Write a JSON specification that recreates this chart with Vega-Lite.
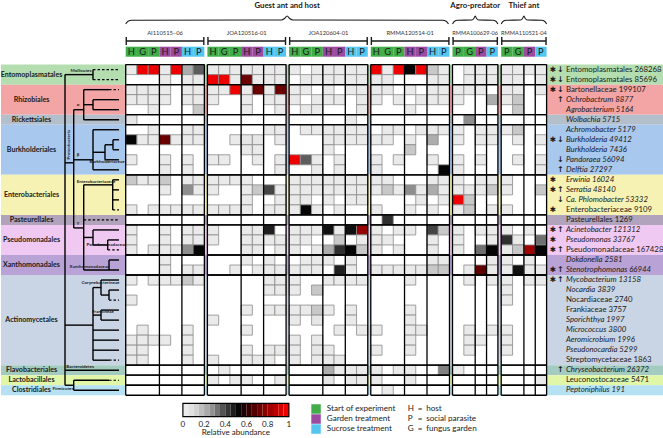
{
"$schema":"https://vega.github.io/schema/vega-lite/v6.json",
"background":"white",
"padding":0,
"spacing":2.7,
"bounds":"flush",
"config":{"view":{"stroke":null},"text":{"font":"Lato","fill":"#1a1a1a"}},
"resolve":{"scale":{"x":"independent","y":"independent","color":"independent","fill":"independent"}},
"datasets":{
"orders":[{"order":"Entomoplasmatales","top":0,"bottom":2,"mid":1},{"order":"Rhizobiales","top":2,"bottom":5,"mid":3.5},{"order":"Rickettsiales","top":5,"bottom":6,"mid":5.5},{"order":"Burkholderiales","top":6,"bottom":11,"mid":8.5},{"order":"Enterobacteriales","top":11,"bottom":15,"mid":13},{"order":"Pasteurellales","top":15,"bottom":16,"mid":15.5},{"order":"Pseudomonadales","top":16,"bottom":19,"mid":17.5},{"order":"Xanthomonadales","top":19,"bottom":21,"mid":20},{"order":"Actinomycetales","top":21,"bottom":30,"mid":25.5},{"order":"Flavobacteriales","top":30,"bottom":31,"mid":30.5},{"order":"Lactobacillales","top":31,"bottom":32,"mid":31.5},{"order":"Clostridiales","top":32,"bottom":33,"mid":32.5}],
"colonies":[{"g":1,"name":"AI110515–06"},{"g":2,"name":"JOA120516-01"},{"g":3,"name":"JOA120604-01"},{"g":4,"name":"RMMA120514-01"},{"g":5,"name":"RMMA100629-06"},{"g":6,"name":"RMMA110521-04"}],
"samples":[
{"g":1,"k":0,"letter":"H","treatment":"Start"},{"g":1,"k":1,"letter":"G","treatment":"Start"},{"g":1,"k":2,"letter":"P","treatment":"Start"},{"g":1,"k":3,"letter":"H","treatment":"Garden"},{"g":1,"k":4,"letter":"P","treatment":"Garden"},{"g":1,"k":5,"letter":"H","treatment":"Sucrose"},{"g":1,"k":6,"letter":"P","treatment":"Sucrose"},
{"g":2,"k":0,"letter":"H","treatment":"Start"},{"g":2,"k":1,"letter":"G","treatment":"Start"},{"g":2,"k":2,"letter":"P","treatment":"Start"},{"g":2,"k":3,"letter":"H","treatment":"Garden"},{"g":2,"k":4,"letter":"P","treatment":"Garden"},{"g":2,"k":5,"letter":"H","treatment":"Sucrose"},{"g":2,"k":6,"letter":"P","treatment":"Sucrose"},
{"g":3,"k":0,"letter":"H","treatment":"Start"},{"g":3,"k":1,"letter":"G","treatment":"Start"},{"g":3,"k":2,"letter":"P","treatment":"Start"},{"g":3,"k":3,"letter":"H","treatment":"Garden"},{"g":3,"k":4,"letter":"P","treatment":"Garden"},{"g":3,"k":5,"letter":"H","treatment":"Sucrose"},{"g":3,"k":6,"letter":"P","treatment":"Sucrose"},
{"g":4,"k":0,"letter":"H","treatment":"Start"},{"g":4,"k":1,"letter":"G","treatment":"Start"},{"g":4,"k":2,"letter":"P","treatment":"Start"},{"g":4,"k":3,"letter":"H","treatment":"Garden"},{"g":4,"k":4,"letter":"P","treatment":"Garden"},{"g":4,"k":5,"letter":"H","treatment":"Sucrose"},{"g":4,"k":6,"letter":"P","treatment":"Sucrose"},
{"g":5,"k":0,"letter":"P","treatment":"Start"},{"g":5,"k":1,"letter":"G","treatment":"Start"},{"g":5,"k":2,"letter":"P","treatment":"Garden"},{"g":5,"k":3,"letter":"P","treatment":"Sucrose"},
{"g":6,"k":0,"letter":"P","treatment":"Start"},{"g":6,"k":1,"letter":"G","treatment":"Start"},{"g":6,"k":2,"letter":"P","treatment":"Garden"},{"g":6,"k":3,"letter":"P","treatment":"Sucrose"}],
"vlines":[{"g":1,"at":0},{"g":1,"at":3},{"g":1,"at":5},{"g":1,"at":7},{"g":2,"at":0},{"g":2,"at":3},{"g":2,"at":5},{"g":2,"at":7},{"g":3,"at":0},{"g":3,"at":3},{"g":3,"at":5},{"g":3,"at":7},{"g":4,"at":0},{"g":4,"at":3},{"g":4,"at":5},{"g":4,"at":7},{"g":5,"at":0},{"g":5,"at":2},{"g":5,"at":3},{"g":5,"at":4},{"g":6,"at":0},{"g":6,"at":2},{"g":6,"at":3},{"g":6,"at":4}],
"taxa":[
{"row":0,"label":"Entomoplasmatales 268268","rank":"order","sig":true,"trend":"down"},
{"row":1,"label":"Entomoplasmatales 85696","rank":"order","sig":true,"trend":"down"},
{"row":2,"label":"Bartonellaceae 199107","rank":"family","sig":true,"trend":"down"},
{"row":3,"label":"Ochrobactrum 8877","rank":"genus","sig":false,"trend":"up"},
{"row":4,"label":"Agrobacterium 5164","rank":"genus","sig":false,"trend":"none"},
{"row":5,"label":"Wolbachia 5715","rank":"genus","sig":false,"trend":"none"},
{"row":6,"label":"Achromobacter 5179","rank":"genus","sig":false,"trend":"none"},
{"row":7,"label":"Burkholderia 49412","rank":"genus","sig":true,"trend":"down"},
{"row":8,"label":"Burkholderia 7436","rank":"genus","sig":false,"trend":"none"},
{"row":9,"label":"Pandoraea 56094","rank":"genus","sig":false,"trend":"down"},
{"row":10,"label":"Delftia 27297","rank":"genus","sig":false,"trend":"up"},
{"row":11,"label":"Erwinia 16024","rank":"genus","sig":true,"trend":"none"},
{"row":12,"label":"Serratia 48140","rank":"genus","sig":true,"trend":"up"},
{"row":13,"label":"Ca. Phlomobacter 53332","rank":"genus","sig":false,"trend":"down"},
{"row":14,"label":"Enterobacteriaceae 9109","rank":"family","sig":true,"trend":"none"},
{"row":15,"label":"Pasteurellales 1269","rank":"order","sig":false,"trend":"none"},
{"row":16,"label":"Acinetobacter 121312","rank":"genus","sig":true,"trend":"up"},
{"row":17,"label":"Pseudomonas 33767","rank":"genus","sig":true,"trend":"none"},
{"row":18,"label":"Pseudomonadaceae 167428","rank":"family","sig":true,"trend":"up"},
{"row":19,"label":"Dokdonella 2581","rank":"genus","sig":false,"trend":"none"},
{"row":20,"label":"Stenotrophomonas 66944","rank":"genus","sig":true,"trend":"up"},
{"row":21,"label":"Mycobacterium 13158","rank":"genus","sig":true,"trend":"up"},
{"row":22,"label":"Nocardia 3839","rank":"genus","sig":false,"trend":"none"},
{"row":23,"label":"Nocardiaceae 2740","rank":"family","sig":false,"trend":"none"},
{"row":24,"label":"Frankiaceae 3757","rank":"family","sig":false,"trend":"none"},
{"row":25,"label":"Sporichthya 1997","rank":"genus","sig":false,"trend":"none"},
{"row":26,"label":"Micrococcus 3800","rank":"genus","sig":false,"trend":"none"},
{"row":27,"label":"Aeromicrobium 1996","rank":"genus","sig":false,"trend":"none"},
{"row":28,"label":"Pseudonocardia 5299","rank":"genus","sig":false,"trend":"none"},
{"row":29,"label":"Streptomycetaceae 1863","rank":"family","sig":false,"trend":"none"},
{"row":30,"label":"Chryseobacterium 26372","rank":"genus","sig":false,"trend":"up"},
{"row":31,"label":"Leuconostocaceae 5471","rank":"family","sig":false,"trend":"none"},
{"row":32,"label":"Peptoniphilus 191","rank":"genus","sig":false,"trend":"none"}],
"tree":[
{"x1":64,"y1":1.0,"x2":64,"y2":32.0,"line":"solid"},
{"x1":64,"y1":1.0,"x2":92,"y2":1.0,"line":"solid"},
{"x1":92,"y1":0.5,"x2":92,"y2":1.5,"line":"solid"},
{"x1":92,"y1":0.5,"x2":118,"y2":0.5,"line":"dashed"},
{"x1":92,"y1":1.5,"x2":118,"y2":1.5,"line":"dashed"},
{"x1":64,"y1":9.8,"x2":72.7,"y2":9.8,"line":"solid"},
{"x1":72.7,"y1":4.5,"x2":72.7,"y2":16.3,"line":"solid"},
{"x1":72.7,"y1":4.5,"x2":82.7,"y2":4.5,"line":"solid"},
{"x1":82.7,"y1":2.5,"x2":82.7,"y2":5.5,"line":"solid"},
{"x1":82.7,"y1":2.5,"x2":108,"y2":2.5,"line":"solid"},
{"x1":108,"y1":2.5,"x2":118,"y2":2.5,"line":"dashed"},
{"x1":82.7,"y1":4.0,"x2":92,"y2":4.0,"line":"solid"},
{"x1":92,"y1":3.5,"x2":92,"y2":4.5,"line":"solid"},
{"x1":92,"y1":3.5,"x2":118,"y2":3.5,"line":"solid"},
{"x1":92,"y1":4.5,"x2":118,"y2":4.5,"line":"solid"},
{"x1":82.7,"y1":5.5,"x2":118,"y2":5.5,"line":"solid"},
{"x1":72.7,"y1":9.5,"x2":92,"y2":9.5,"line":"solid"},
{"x1":92,"y1":6.5,"x2":92,"y2":10.5,"line":"solid"},
{"x1":92,"y1":6.5,"x2":118,"y2":6.5,"line":"solid"},
{"x1":92,"y1":10.5,"x2":118,"y2":10.5,"line":"solid"},
{"x1":92,"y1":8.75,"x2":104,"y2":8.75,"line":"solid"},
{"x1":104,"y1":8.0,"x2":104,"y2":9.5,"line":"solid"},
{"x1":104,"y1":9.5,"x2":118,"y2":9.5,"line":"solid"},
{"x1":104,"y1":8.0,"x2":112,"y2":8.0,"line":"solid"},
{"x1":112,"y1":7.5,"x2":112,"y2":8.5,"line":"solid"},
{"x1":112,"y1":7.5,"x2":118,"y2":7.5,"line":"solid"},
{"x1":112,"y1":8.5,"x2":118,"y2":8.5,"line":"solid"},
{"x1":72.7,"y1":16.3,"x2":82.7,"y2":16.3,"line":"solid"},
{"x1":82.7,"y1":12.0,"x2":82.7,"y2":20.5,"line":"solid"},
{"x1":82.7,"y1":12.0,"x2":111.7,"y2":12.0,"line":"solid"},
{"x1":111.7,"y1":11.5,"x2":111.7,"y2":14.5,"line":"solid"},
{"x1":111.7,"y1":11.5,"x2":118,"y2":11.5,"line":"solid"},
{"x1":111.7,"y1":12.5,"x2":118,"y2":12.5,"line":"solid"},
{"x1":111.7,"y1":13.5,"x2":118,"y2":13.5,"line":"solid"},
{"x1":111.7,"y1":14.5,"x2":118,"y2":14.5,"line":"dashed"},
{"x1":82.7,"y1":15.5,"x2":118,"y2":15.5,"line":"dashed"},
{"x1":82.7,"y1":17.25,"x2":92,"y2":17.25,"line":"solid"},
{"x1":92,"y1":16.5,"x2":92,"y2":18.0,"line":"solid"},
{"x1":92,"y1":16.5,"x2":118,"y2":16.5,"line":"solid"},
{"x1":92,"y1":18.0,"x2":106.7,"y2":18.0,"line":"solid"},
{"x1":106.7,"y1":17.5,"x2":106.7,"y2":18.5,"line":"solid"},
{"x1":106.7,"y1":17.5,"x2":118,"y2":17.5,"line":"solid"},
{"x1":106.7,"y1":18.5,"x2":118,"y2":18.5,"line":"dashed"},
{"x1":82.7,"y1":20.5,"x2":118,"y2":20.5,"line":"solid"},
{"x1":108,"y1":19.5,"x2":108,"y2":20.5,"line":"solid"},
{"x1":108,"y1":19.5,"x2":118,"y2":19.5,"line":"solid"},
{"x1":64,"y1":26.0,"x2":92,"y2":26.0,"line":"solid"},
{"x1":92,"y1":22.25,"x2":92,"y2":29.5,"line":"solid"},
{"x1":92,"y1":22.25,"x2":100,"y2":22.25,"line":"solid"},
{"x1":100,"y1":21.5,"x2":100,"y2":23.0,"line":"solid"},
{"x1":100,"y1":21.5,"x2":118,"y2":21.5,"line":"solid"},
{"x1":100,"y1":23.0,"x2":108,"y2":23.0,"line":"solid"},
{"x1":108,"y1":22.5,"x2":108,"y2":23.5,"line":"solid"},
{"x1":108,"y1":22.5,"x2":118,"y2":22.5,"line":"solid"},
{"x1":108,"y1":23.5,"x2":118,"y2":23.5,"line":"dashed"},
{"x1":92,"y1":25.0,"x2":100,"y2":25.0,"line":"solid"},
{"x1":100,"y1":24.5,"x2":100,"y2":25.5,"line":"solid"},
{"x1":100,"y1":24.5,"x2":118,"y2":24.5,"line":"solid"},
{"x1":100,"y1":25.5,"x2":118,"y2":25.5,"line":"solid"},
{"x1":92,"y1":26.5,"x2":118,"y2":26.5,"line":"solid"},
{"x1":92,"y1":27.5,"x2":118,"y2":27.5,"line":"solid"},
{"x1":92,"y1":28.5,"x2":118,"y2":28.5,"line":"solid"},
{"x1":92,"y1":29.5,"x2":108,"y2":29.5,"line":"solid"},
{"x1":108,"y1":29.5,"x2":118,"y2":29.5,"line":"dashed"},
{"x1":64,"y1":30.5,"x2":118,"y2":30.5,"line":"solid"},
{"x1":64,"y1":32.0,"x2":72.7,"y2":32.0,"line":"solid"},
{"x1":72.7,"y1":31.5,"x2":72.7,"y2":32.5,"line":"solid"},
{"x1":72.7,"y1":31.5,"x2":108,"y2":31.5,"line":"solid"},
{"x1":108,"y1":31.5,"x2":118,"y2":31.5,"line":"dashed"},
{"x1":72.7,"y1":32.5,"x2":118,"y2":32.5,"line":"solid"}],
"treeLabels":[{"label":"Mollicutes","x":80,"y":0.62},{"label":"α","x":77,"y":4.05},{"label":"β","x":77,"y":9.05},{"label":"γ","x":77,"y":15.85},{"label":"Burkholderiaceae","x":106,"y":9.75},{"label":"Enterobacteriaceae","x":95,"y":11.72},{"label":"Pseudomonadaceae","x":105.5,"y":18.02},{"label":"Xanthomonadaceae","x":88.5,"y":20.18},{"label":"Corynebacterineae","x":99.5,"y":21.8},{"label":"Frankineae","x":102,"y":24.65},{"label":"Bacteroidetes","x":79,"y":30.15},{"label":"Firmicutes","x":62,"y":32.4}],
"braces":[
{"g":1,"i":0,"bx":0,"by":-4.052},{"g":1,"i":1,"bx":0.18,"by":-4.301},{"g":1,"i":2,"bx":0.53,"by":-4.421},{"g":1,"i":3,"bx":13.83,"by":-4.451},{"g":1,"i":4,"bx":14.13,"by":-4.601},{"g":1,"i":5,"bx":14.36,"by":-4.85},{"g":1,"i":6,"bx":14.59,"by":-4.601},{"g":1,"i":7,"bx":14.89,"by":-4.451},{"g":1,"i":8,"bx":28.19,"by":-4.421},{"g":1,"i":9,"bx":28.54,"by":-4.301},{"g":1,"i":10,"bx":28.72,"by":-4.052},
{"g":5,"i":0,"bx":0,"by":-4.052},{"g":5,"i":1,"bx":0.15,"by":-4.301},{"g":5,"i":2,"bx":0.45,"by":-4.421},{"g":5,"i":3,"bx":1.7,"by":-4.451},{"g":5,"i":4,"bx":1.88,"by":-4.601},{"g":5,"i":5,"bx":2,"by":-4.85},{"g":5,"i":6,"bx":2.12,"by":-4.601},{"g":5,"i":7,"bx":2.3,"by":-4.451},{"g":5,"i":8,"bx":3.55,"by":-4.421},{"g":5,"i":9,"bx":3.85,"by":-4.301},{"g":5,"i":10,"bx":4,"by":-4.052},
{"g":6,"i":0,"bx":0,"by":-4.052},{"g":6,"i":1,"bx":0.15,"by":-4.301},{"g":6,"i":2,"bx":0.45,"by":-4.421},{"g":6,"i":3,"bx":1.7,"by":-4.451},{"g":6,"i":4,"bx":1.88,"by":-4.601},{"g":6,"i":5,"bx":2,"by":-4.85},{"g":6,"i":6,"bx":2.12,"by":-4.601},{"g":6,"i":7,"bx":2.3,"by":-4.451},{"g":6,"i":8,"bx":3.55,"by":-4.421},{"g":6,"i":9,"bx":3.85,"by":-4.301},{"g":6,"i":10,"bx":4,"by":-4.052}],
"legendSteps":[{"lo":0,"hi":0.05,"v":0.025},{"lo":0.05,"hi":0.1,"v":0.075},{"lo":0.1,"hi":0.15,"v":0.125},{"lo":0.15,"hi":0.2,"v":0.175},{"lo":0.2,"hi":0.25,"v":0.225},{"lo":0.25,"hi":0.3,"v":0.275},{"lo":0.3,"hi":0.35,"v":0.325},{"lo":0.35,"hi":0.4,"v":0.375},{"lo":0.4,"hi":0.45,"v":0.425},{"lo":0.45,"hi":0.5,"v":0.475},{"lo":0.5,"hi":0.55,"v":0.525},{"lo":0.55,"hi":0.6,"v":0.575},{"lo":0.6,"hi":0.65,"v":0.625},{"lo":0.65,"hi":0.7,"v":0.675},{"lo":0.7,"hi":0.75,"v":0.725},{"lo":0.75,"hi":0.8,"v":0.775},{"lo":0.8,"hi":0.85,"v":0.825},{"lo":0.85,"hi":0.9,"v":0.875},{"lo":0.9,"hi":0.95,"v":0.925},{"lo":0.95,"hi":1,"v":0.975}],
"legendTicks":[{"t":0,"label":"0"},{"t":0.2,"label":"0.2"},{"t":0.4,"label":"0.4"},{"t":0.6,"label":"0.6"},{"t":0.8,"label":"0.8"},{"t":1,"label":"1"}],
"treatLegend":[{"treatment":"Start","label":"Start of experiment","line":34.37},{"treatment":"Garden","label":"Garden treatment","line":35.37},{"treatment":"Sucrose","label":"Sucrose treatment","line":36.37}],
"keyLegend":[{"letter":"H","word":"host","line":34.37},{"letter":"P","word":"social parasite","line":35.37},{"letter":"G","word":"fungus garden","line":36.37}],
"cells":[
{"g":1,"k":0,"row":0,"v":0.03},{"g":1,"k":1,"row":0,"v":0.97},{"g":1,"k":2,"row":0,"v":0.97},{"g":1,"k":3,"row":0,"v":0.03},{"g":1,"k":4,"row":0,"v":0.97},{"g":1,"k":5,"row":0,"v":0.22},{"g":1,"k":6,"row":0,"v":0.36},
{"g":2,"k":0,"row":0,"v":0.03},{"g":2,"k":1,"row":0,"v":0.03},{"g":2,"k":2,"row":0,"v":0.03},{"g":2,"k":3,"row":0,"v":0.03},{"g":2,"k":4,"row":0,"v":0.03},{"g":2,"k":5,"row":0,"v":0.03},{"g":2,"k":6,"row":0,"v":0.03},
{"g":3,"k":0,"row":0,"v":0.03},{"g":3,"k":2,"row":0,"v":0.03},{"g":3,"k":3,"row":0,"v":0.03},{"g":3,"k":4,"row":0,"v":0.03},{"g":3,"k":5,"row":0,"v":0.03},{"g":3,"k":6,"row":0,"v":0.03},
{"g":4,"k":0,"row":0,"v":0.97},{"g":4,"k":1,"row":0,"v":0.03},{"g":4,"k":2,"row":0,"v":0.97},{"g":4,"k":3,"row":0,"v":0.52},{"g":4,"k":4,"row":0,"v":0.97},{"g":4,"k":5,"row":0,"v":0.15},{"g":4,"k":6,"row":0,"v":0.03},
{"g":5,"k":1,"row":0,"v":0.03},{"g":5,"k":2,"row":0,"v":0.03},{"g":5,"k":3,"row":0,"v":0.03},
{"g":6,"k":0,"row":0,"v":0.03},{"g":6,"k":1,"row":0,"v":0.03},{"g":6,"k":2,"row":0,"v":0.03},{"g":6,"k":3,"row":0,"v":0.03},
{"g":1,"k":3,"row":1,"v":0.03},{"g":1,"k":5,"row":1,"v":0.03},{"g":1,"k":6,"row":1,"v":0.03},
{"g":2,"k":0,"row":1,"v":0.97},{"g":2,"k":1,"row":1,"v":0.97},{"g":2,"k":2,"row":1,"v":0.03},{"g":2,"k":3,"row":1,"v":0.72},{"g":2,"k":4,"row":1,"v":0.03},{"g":2,"k":5,"row":1,"v":0.03},{"g":2,"k":6,"row":1,"v":0.03},
{"g":3,"k":1,"row":1,"v":0.03},{"g":3,"k":2,"row":1,"v":0.03},{"g":3,"k":3,"row":1,"v":0.03},{"g":3,"k":4,"row":1,"v":0.03},{"g":3,"k":5,"row":1,"v":0.03},{"g":3,"k":6,"row":1,"v":0.03},
{"g":4,"k":0,"row":1,"v":0.03},{"g":4,"k":1,"row":1,"v":0.03},{"g":4,"k":5,"row":1,"v":0.03},{"g":4,"k":6,"row":1,"v":0.03},
{"g":5,"k":1,"row":1,"v":0.03},{"g":5,"k":2,"row":1,"v":0.03},{"g":5,"k":3,"row":1,"v":0.03},
{"g":6,"k":0,"row":1,"v":0.03},{"g":6,"k":1,"row":1,"v":0.03},{"g":6,"k":3,"row":1,"v":0.03},
{"g":1,"k":0,"row":2,"v":0.03},{"g":1,"k":1,"row":2,"v":0.03},{"g":1,"k":2,"row":2,"v":0.03},{"g":1,"k":3,"row":2,"v":0.03},{"g":1,"k":5,"row":2,"v":0.03},{"g":1,"k":6,"row":2,"v":0.03},
{"g":2,"k":0,"row":2,"v":0.03},{"g":2,"k":1,"row":2,"v":0.03},{"g":2,"k":2,"row":2,"v":0.97},{"g":2,"k":3,"row":2,"v":0.03},{"g":2,"k":4,"row":2,"v":0.72},{"g":2,"k":5,"row":2,"v":0.03},{"g":2,"k":6,"row":2,"v":0.72},
{"g":3,"k":0,"row":2,"v":0.03},{"g":3,"k":1,"row":2,"v":0.03},{"g":3,"k":3,"row":2,"v":0.03},{"g":3,"k":5,"row":2,"v":0.03},{"g":3,"k":6,"row":2,"v":0.03},
{"g":4,"k":0,"row":2,"v":0.03},{"g":4,"k":1,"row":2,"v":0.03},{"g":4,"k":3,"row":2,"v":0.03},{"g":4,"k":5,"row":2,"v":0.03},{"g":4,"k":6,"row":2,"v":0.03},
{"g":5,"k":0,"row":2,"v":0.03},{"g":5,"k":1,"row":2,"v":0.03},{"g":5,"k":2,"row":2,"v":0.03},{"g":6,"k":0,"row":2,"v":0.03},{"g":6,"k":1,"row":2,"v":0.03},{"g":6,"k":3,"row":2,"v":0.03},
{"g":1,"k":0,"row":3,"v":0.03},{"g":1,"k":1,"row":3,"v":0.03},{"g":1,"k":2,"row":3,"v":0.03},{"g":1,"k":3,"row":3,"v":0.03},{"g":1,"k":5,"row":3,"v":0.03},{"g":1,"k":6,"row":3,"v":0.03},
{"g":2,"k":0,"row":3,"v":0.03},{"g":2,"k":3,"row":3,"v":0.03},{"g":2,"k":5,"row":3,"v":0.03},{"g":2,"k":6,"row":3,"v":0.03},
{"g":3,"k":0,"row":3,"v":0.03},{"g":3,"k":2,"row":3,"v":0.03},{"g":3,"k":3,"row":3,"v":0.03},{"g":3,"k":4,"row":3,"v":0.03},{"g":3,"k":6,"row":3,"v":0.03},
{"g":4,"k":0,"row":3,"v":0.03},{"g":4,"k":2,"row":3,"v":0.03},{"g":4,"k":4,"row":3,"v":0.03},{"g":4,"k":5,"row":3,"v":0.03},{"g":4,"k":6,"row":3,"v":0.03},
{"g":5,"k":0,"row":3,"v":0.03},{"g":5,"k":3,"row":3,"v":0.22},{"g":6,"k":0,"row":3,"v":0.03},{"g":6,"k":1,"row":3,"v":0.15},
{"g":1,"k":2,"row":4,"v":0.03},{"g":1,"k":6,"row":4,"v":0.15},
{"g":2,"k":3,"row":4,"v":0.03},{"g":2,"k":6,"row":4,"v":0.03},
{"g":3,"k":1,"row":4,"v":0.03},{"g":3,"k":2,"row":4,"v":0.03},{"g":3,"k":6,"row":4,"v":0.03},{"g":4,"k":3,"row":4,"v":0.03},{"g":6,"k":1,"row":4,"v":0.15},
{"g":1,"k":0,"row":5,"v":0.05},{"g":3,"k":5,"row":5,"v":0.03},{"g":5,"k":1,"row":5,"v":0.28},
{"g":1,"k":2,"row":6,"v":0.03},{"g":1,"k":5,"row":6,"v":0.03},{"g":1,"k":6,"row":6,"v":0.03},
{"g":2,"k":5,"row":6,"v":0.03},{"g":2,"k":6,"row":6,"v":0.03},
{"g":3,"k":1,"row":6,"v":0.03},{"g":3,"k":2,"row":6,"v":0.03},{"g":3,"k":3,"row":6,"v":0.03},{"g":3,"k":4,"row":6,"v":0.03},{"g":3,"k":5,"row":6,"v":0.03},{"g":3,"k":6,"row":6,"v":0.03},
{"g":4,"k":1,"row":6,"v":0.03},{"g":4,"k":2,"row":6,"v":0.03},{"g":4,"k":4,"row":6,"v":0.03},{"g":4,"k":5,"row":6,"v":0.03},{"g":4,"k":6,"row":6,"v":0.03},
{"g":5,"k":0,"row":6,"v":0.03},{"g":5,"k":2,"row":6,"v":0.03},{"g":5,"k":3,"row":6,"v":0.03},{"g":6,"k":0,"row":6,"v":0.03},{"g":6,"k":1,"row":6,"v":0.15},
{"g":1,"k":0,"row":7,"v":0.52},{"g":1,"k":1,"row":7,"v":0.03},{"g":1,"k":2,"row":7,"v":0.03},{"g":1,"k":3,"row":7,"v":0.72},{"g":1,"k":4,"row":7,"v":0.03},{"g":1,"k":5,"row":7,"v":0.03},{"g":1,"k":6,"row":7,"v":0.03},
{"g":2,"k":2,"row":7,"v":0.03},{"g":2,"k":3,"row":7,"v":0.05},{"g":2,"k":4,"row":7,"v":0.05},{"g":2,"k":6,"row":7,"v":0.03},
{"g":3,"k":3,"row":7,"v":0.03},{"g":3,"k":4,"row":7,"v":0.03},{"g":3,"k":5,"row":7,"v":0.03},{"g":3,"k":6,"row":7,"v":0.03},
{"g":4,"k":0,"row":7,"v":0.03},{"g":4,"k":1,"row":7,"v":0.03},{"g":4,"k":3,"row":7,"v":0.03},{"g":4,"k":5,"row":7,"v":0.22},
{"g":5,"k":0,"row":7,"v":0.03},{"g":5,"k":2,"row":7,"v":0.03},{"g":5,"k":3,"row":7,"v":0.03},{"g":6,"k":1,"row":7,"v":0.03},{"g":6,"k":3,"row":7,"v":0.03},
{"g":2,"k":3,"row":8,"v":0.03},{"g":2,"k":4,"row":8,"v":0.03},{"g":4,"k":3,"row":8,"v":0.15},{"g":3,"k":3,"row":8,"v":0.03},
{"g":1,"k":0,"row":9,"v":0.03},{"g":1,"k":3,"row":9,"v":0.03},{"g":1,"k":5,"row":9,"v":0.03},
{"g":2,"k":0,"row":9,"v":0.03},{"g":2,"k":1,"row":9,"v":0.03},{"g":2,"k":4,"row":9,"v":0.03},{"g":2,"k":6,"row":9,"v":0.03},
{"g":3,"k":0,"row":9,"v":0.97},{"g":3,"k":1,"row":9,"v":0.36},{"g":3,"k":2,"row":9,"v":0.03},{"g":3,"k":4,"row":9,"v":0.03},
{"g":4,"k":0,"row":9,"v":0.03},{"g":4,"k":2,"row":9,"v":0.03},{"g":4,"k":5,"row":9,"v":0.03},
{"g":5,"k":0,"row":9,"v":0.03},{"g":5,"k":2,"row":9,"v":0.03},{"g":6,"k":1,"row":9,"v":0.03},{"g":6,"k":3,"row":9,"v":0.03},
{"g":1,"k":3,"row":10,"v":0.03},{"g":1,"k":5,"row":10,"v":0.03},{"g":2,"k":6,"row":10,"v":0.03},
{"g":3,"k":2,"row":10,"v":0.03},{"g":3,"k":4,"row":10,"v":0.03},
{"g":4,"k":0,"row":10,"v":0.03},{"g":4,"k":6,"row":10,"v":0.52},{"g":5,"k":0,"row":10,"v":0.03},{"g":6,"k":3,"row":10,"v":0.03},
{"g":1,"k":0,"row":11,"v":0.15},{"g":1,"k":1,"row":11,"v":0.03},{"g":1,"k":2,"row":11,"v":0.03},{"g":1,"k":3,"row":11,"v":0.15},{"g":1,"k":5,"row":11,"v":0.03},{"g":1,"k":6,"row":11,"v":0.03},
{"g":2,"k":0,"row":11,"v":0.03},{"g":2,"k":1,"row":11,"v":0.03},{"g":2,"k":2,"row":11,"v":0.03},{"g":2,"k":3,"row":11,"v":0.03},
{"g":3,"k":0,"row":11,"v":0.03},{"g":3,"k":1,"row":11,"v":0.03},{"g":3,"k":2,"row":11,"v":0.03},{"g":3,"k":3,"row":11,"v":0.03},{"g":3,"k":4,"row":11,"v":0.03},{"g":3,"k":5,"row":11,"v":0.03},{"g":3,"k":6,"row":11,"v":0.03},
{"g":4,"k":0,"row":11,"v":0.03},{"g":4,"k":1,"row":11,"v":0.03},{"g":4,"k":5,"row":11,"v":0.03},{"g":4,"k":6,"row":11,"v":0.03},
{"g":5,"k":0,"row":11,"v":0.03},{"g":5,"k":2,"row":11,"v":0.03},{"g":5,"k":3,"row":11,"v":0.03},{"g":6,"k":0,"row":11,"v":0.03},
{"g":1,"k":3,"row":12,"v":0.03},{"g":1,"k":5,"row":12,"v":0.28},{"g":1,"k":6,"row":12,"v":0.03},
{"g":2,"k":0,"row":12,"v":0.03},{"g":2,"k":3,"row":12,"v":0.03},{"g":2,"k":4,"row":12,"v":0.15},{"g":2,"k":5,"row":12,"v":0.4},{"g":2,"k":6,"row":12,"v":0.03},
{"g":3,"k":0,"row":12,"v":0.03},{"g":3,"k":1,"row":12,"v":0.03},{"g":3,"k":2,"row":12,"v":0.03},{"g":3,"k":3,"row":12,"v":0.03},{"g":3,"k":4,"row":12,"v":0.03},{"g":3,"k":5,"row":12,"v":0.03},{"g":3,"k":6,"row":12,"v":0.03},
{"g":4,"k":0,"row":12,"v":0.03},{"g":4,"k":1,"row":12,"v":0.15},{"g":4,"k":2,"row":12,"v":0.03},{"g":4,"k":3,"row":12,"v":0.28},{"g":4,"k":4,"row":12,"v":0.03},{"g":4,"k":5,"row":12,"v":0.22},{"g":4,"k":6,"row":12,"v":0.03},
{"g":5,"k":0,"row":12,"v":0.03},{"g":5,"k":1,"row":12,"v":0.03},{"g":5,"k":2,"row":12,"v":0.03},{"g":5,"k":3,"row":12,"v":0.15},{"g":6,"k":0,"row":12,"v":0.03},{"g":6,"k":3,"row":12,"v":0.15},
{"g":2,"k":3,"row":13,"v":0.03},{"g":2,"k":6,"row":13,"v":0.03},{"g":3,"k":0,"row":13,"v":0.03},{"g":3,"k":1,"row":13,"v":0.03},{"g":3,"k":3,"row":13,"v":0.03},{"g":3,"k":5,"row":13,"v":0.03},{"g":3,"k":6,"row":13,"v":0.03},{"g":4,"k":4,"row":13,"v":0.03},{"g":4,"k":6,"row":13,"v":0.03},{"g":5,"k":0,"row":13,"v":0.97},{"g":5,"k":1,"row":13,"v":0.15},
{"g":1,"k":0,"row":14,"v":0.03},{"g":1,"k":2,"row":14,"v":0.03},{"g":1,"k":3,"row":14,"v":0.03},{"g":1,"k":4,"row":14,"v":0.03},{"g":1,"k":5,"row":14,"v":0.03},{"g":1,"k":6,"row":14,"v":0.03},
{"g":2,"k":0,"row":14,"v":0.03},{"g":2,"k":1,"row":14,"v":0.03},{"g":2,"k":2,"row":14,"v":0.03},{"g":2,"k":3,"row":14,"v":0.03},{"g":2,"k":5,"row":14,"v":0.03},{"g":2,"k":6,"row":14,"v":0.03},
{"g":3,"k":0,"row":14,"v":0.03},{"g":3,"k":1,"row":14,"v":0.52},{"g":3,"k":2,"row":14,"v":0.03},{"g":3,"k":4,"row":14,"v":0.03},
{"g":4,"k":0,"row":14,"v":0.03},{"g":4,"k":3,"row":14,"v":0.03},{"g":4,"k":5,"row":14,"v":0.03},
{"g":5,"k":0,"row":14,"v":0.03},{"g":5,"k":1,"row":14,"v":0.15},{"g":5,"k":3,"row":14,"v":0.03},{"g":6,"k":0,"row":14,"v":0.03},
{"g":4,"k":1,"row":15,"v":0.44},
{"g":1,"k":0,"row":16,"v":0.03},{"g":1,"k":3,"row":16,"v":0.03},{"g":1,"k":5,"row":16,"v":0.03},{"g":1,"k":6,"row":16,"v":0.03},
{"g":2,"k":0,"row":16,"v":0.03},{"g":2,"k":3,"row":16,"v":0.03},{"g":2,"k":4,"row":16,"v":0.03},{"g":2,"k":5,"row":16,"v":0.47},
{"g":3,"k":0,"row":16,"v":0.03},{"g":3,"k":1,"row":16,"v":0.03},{"g":3,"k":2,"row":16,"v":0.03},{"g":3,"k":3,"row":16,"v":0.5},{"g":3,"k":4,"row":16,"v":0.03},{"g":3,"k":5,"row":16,"v":0.5},{"g":3,"k":6,"row":16,"v":0.8},
{"g":4,"k":0,"row":16,"v":0.03},{"g":4,"k":2,"row":16,"v":0.03},{"g":4,"k":3,"row":16,"v":0.03},{"g":4,"k":5,"row":16,"v":0.4},{"g":4,"k":6,"row":16,"v":0.15},{"g":5,"k":0,"row":16,"v":0.03},{"g":5,"k":2,"row":16,"v":0.03},{"g":5,"k":3,"row":16,"v":0.03},{"g":6,"k":0,"row":16,"v":0.03},{"g":6,"k":2,"row":16,"v":0.03},
{"g":1,"k":0,"row":17,"v":0.03},{"g":1,"k":3,"row":17,"v":0.03},{"g":1,"k":5,"row":17,"v":0.03},{"g":1,"k":6,"row":17,"v":0.03},
{"g":2,"k":0,"row":17,"v":0.03},{"g":2,"k":3,"row":17,"v":0.03},{"g":2,"k":4,"row":17,"v":0.03},{"g":2,"k":5,"row":17,"v":0.03},{"g":2,"k":6,"row":17,"v":0.03},
{"g":3,"k":0,"row":17,"v":0.03},{"g":3,"k":1,"row":17,"v":0.03},{"g":3,"k":4,"row":17,"v":0.15},{"g":3,"k":6,"row":17,"v":0.03},{"g":4,"k":0,"row":17,"v":0.03},{"g":4,"k":1,"row":17,"v":0.03},{"g":4,"k":5,"row":17,"v":0.03},
{"g":5,"k":0,"row":17,"v":0.03},{"g":5,"k":3,"row":17,"v":0.03},{"g":6,"k":0,"row":17,"v":0.44},{"g":6,"k":1,"row":17,"v":0.03},{"g":6,"k":3,"row":17,"v":0.33},
{"g":1,"k":0,"row":18,"v":0.03},{"g":1,"k":2,"row":18,"v":0.03},{"g":1,"k":3,"row":18,"v":0.03},{"g":1,"k":4,"row":18,"v":0.03},{"g":1,"k":5,"row":18,"v":0.28},{"g":1,"k":6,"row":18,"v":0.52},
{"g":2,"k":3,"row":18,"v":0.03},{"g":2,"k":4,"row":18,"v":0.03},{"g":2,"k":6,"row":18,"v":0.03},
{"g":3,"k":0,"row":18,"v":0.03},{"g":3,"k":2,"row":18,"v":0.03},{"g":3,"k":3,"row":18,"v":0.22},{"g":3,"k":4,"row":18,"v":0.44},{"g":3,"k":5,"row":18,"v":0.52},{"g":3,"k":6,"row":18,"v":0.15},
{"g":4,"k":0,"row":18,"v":0.03},{"g":4,"k":2,"row":18,"v":0.03},{"g":4,"k":5,"row":18,"v":0.03},
{"g":5,"k":0,"row":18,"v":0.03},{"g":5,"k":2,"row":18,"v":0.33},{"g":5,"k":3,"row":18,"v":0.52},
{"g":6,"k":0,"row":18,"v":0.03},{"g":6,"k":1,"row":18,"v":0.15},{"g":6,"k":2,"row":18,"v":0.82},{"g":6,"k":3,"row":18,"v":0.52},
{"g":1,"k":3,"row":19,"v":0.03},{"g":2,"k":3,"row":19,"v":0.03},{"g":2,"k":5,"row":19,"v":0.03},{"g":3,"k":1,"row":19,"v":0.03},{"g":3,"k":2,"row":19,"v":0.03},{"g":3,"k":3,"row":19,"v":0.03},{"g":3,"k":5,"row":19,"v":0.03},{"g":4,"k":5,"row":19,"v":0.03},{"g":4,"k":6,"row":19,"v":0.03},{"g":5,"k":3,"row":19,"v":0.03},{"g":6,"k":0,"row":19,"v":0.03},{"g":6,"k":2,"row":19,"v":0.03},
{"g":1,"k":3,"row":20,"v":0.03},{"g":1,"k":5,"row":20,"v":0.03},{"g":1,"k":6,"row":20,"v":0.03},
{"g":2,"k":2,"row":20,"v":0.03},{"g":2,"k":4,"row":20,"v":0.03},{"g":2,"k":5,"row":20,"v":0.03},{"g":2,"k":6,"row":20,"v":0.03},
{"g":3,"k":0,"row":20,"v":0.03},{"g":3,"k":1,"row":20,"v":0.03},{"g":3,"k":2,"row":20,"v":0.03},{"g":3,"k":4,"row":20,"v":0.47},{"g":3,"k":5,"row":20,"v":0.03},
{"g":4,"k":0,"row":20,"v":0.03},{"g":4,"k":1,"row":20,"v":0.03},{"g":4,"k":2,"row":20,"v":0.03},{"g":4,"k":3,"row":20,"v":0.03},{"g":4,"k":4,"row":20,"v":0.03},{"g":4,"k":5,"row":20,"v":0.15},{"g":4,"k":6,"row":20,"v":0.15},
{"g":5,"k":1,"row":20,"v":0.03},{"g":5,"k":2,"row":20,"v":0.7},{"g":5,"k":3,"row":20,"v":0.03},
{"g":6,"k":0,"row":20,"v":0.03},{"g":6,"k":1,"row":20,"v":0.5},{"g":6,"k":2,"row":20,"v":0.03},{"g":6,"k":3,"row":20,"v":0.03},
{"g":1,"k":0,"row":21,"v":0.03},{"g":1,"k":2,"row":21,"v":0.03},{"g":1,"k":3,"row":21,"v":0.03},{"g":1,"k":4,"row":21,"v":0.03},{"g":1,"k":5,"row":21,"v":0.15},{"g":1,"k":6,"row":21,"v":0.03},
{"g":2,"k":5,"row":21,"v":0.03},{"g":2,"k":6,"row":21,"v":0.03},
{"g":3,"k":0,"row":21,"v":0.03},{"g":3,"k":3,"row":21,"v":0.03},{"g":3,"k":4,"row":21,"v":0.03},{"g":3,"k":5,"row":21,"v":0.03},{"g":3,"k":6,"row":21,"v":0.03},
{"g":4,"k":3,"row":21,"v":0.03},{"g":5,"k":1,"row":21,"v":0.03},{"g":5,"k":3,"row":21,"v":0.03},{"g":6,"k":0,"row":21,"v":0.03},{"g":6,"k":2,"row":21,"v":0.03},{"g":6,"k":3,"row":21,"v":0.03},
{"g":2,"k":5,"row":22,"v":0.03},{"g":2,"k":6,"row":22,"v":0.03},{"g":3,"k":0,"row":22,"v":0.03},{"g":3,"k":2,"row":22,"v":0.15},{"g":6,"k":0,"row":22,"v":0.03},
{"g":1,"k":0,"row":23,"v":0.03},{"g":6,"k":0,"row":23,"v":0.03},
{"g":2,"k":3,"row":24,"v":0.03},{"g":2,"k":5,"row":24,"v":0.03},{"g":2,"k":6,"row":24,"v":0.03},
{"g":3,"k":0,"row":24,"v":0.03},{"g":3,"k":1,"row":24,"v":0.03},{"g":3,"k":2,"row":24,"v":0.15},{"g":3,"k":3,"row":24,"v":0.03},{"g":3,"k":5,"row":24,"v":0.03},{"g":4,"k":3,"row":24,"v":0.03},
{"g":2,"k":0,"row":25,"v":0.03},{"g":3,"k":0,"row":25,"v":0.03},{"g":3,"k":2,"row":25,"v":0.05},{"g":3,"k":5,"row":25,"v":0.03},{"g":4,"k":3,"row":25,"v":0.03},
{"g":1,"k":1,"row":26,"v":0.03},{"g":1,"k":5,"row":26,"v":0.03},{"g":2,"k":3,"row":26,"v":0.03},{"g":3,"k":4,"row":26,"v":0.03},{"g":3,"k":6,"row":26,"v":0.03},
{"g":4,"k":0,"row":26,"v":0.03},{"g":4,"k":3,"row":26,"v":0.03},{"g":4,"k":4,"row":26,"v":0.03},{"g":5,"k":1,"row":26,"v":0.03},{"g":5,"k":3,"row":26,"v":0.03},{"g":6,"k":0,"row":26,"v":0.03},
{"g":1,"k":0,"row":27,"v":0.03},{"g":1,"k":1,"row":27,"v":0.03},{"g":1,"k":2,"row":27,"v":0.03},{"g":1,"k":3,"row":27,"v":0.03},{"g":1,"k":5,"row":27,"v":0.03},
{"g":3,"k":0,"row":27,"v":0.03},{"g":3,"k":2,"row":27,"v":0.03},{"g":4,"k":3,"row":27,"v":0.03},{"g":5,"k":1,"row":27,"v":0.03},{"g":5,"k":2,"row":27,"v":0.03},{"g":6,"k":0,"row":27,"v":0.03},
{"g":1,"k":0,"row":28,"v":0.03},{"g":1,"k":1,"row":28,"v":0.03},{"g":1,"k":5,"row":28,"v":0.03},
{"g":2,"k":3,"row":28,"v":0.03},{"g":2,"k":5,"row":28,"v":0.03},{"g":2,"k":6,"row":28,"v":0.03},
{"g":3,"k":0,"row":28,"v":0.03},{"g":3,"k":2,"row":28,"v":0.05},{"g":3,"k":3,"row":28,"v":0.03},
{"g":4,"k":0,"row":28,"v":0.03},{"g":4,"k":3,"row":28,"v":0.03},{"g":5,"k":1,"row":28,"v":0.03},{"g":6,"k":0,"row":28,"v":0.03},
{"g":1,"k":0,"row":29,"v":0.03},{"g":1,"k":1,"row":29,"v":0.03},{"g":1,"k":5,"row":29,"v":0.03},
{"g":2,"k":0,"row":29,"v":0.03},{"g":2,"k":3,"row":29,"v":0.03},{"g":2,"k":4,"row":29,"v":0.03},{"g":2,"k":5,"row":29,"v":0.03},
{"g":3,"k":0,"row":29,"v":0.03},{"g":3,"k":2,"row":29,"v":0.03},{"g":3,"k":3,"row":29,"v":0.03},{"g":3,"k":4,"row":29,"v":0.03},
{"g":2,"k":1,"row":30,"v":0.03},{"g":3,"k":3,"row":30,"v":0.22},{"g":3,"k":4,"row":30,"v":0.03},{"g":3,"k":5,"row":30,"v":0.03},{"g":3,"k":6,"row":30,"v":0.03},
{"g":4,"k":0,"row":30,"v":0.03},{"g":4,"k":2,"row":30,"v":0.03},{"g":4,"k":3,"row":30,"v":0.03},{"g":4,"k":6,"row":30,"v":0.3},{"g":5,"k":0,"row":30,"v":0.03},
{"g":2,"k":0,"row":31,"v":0.03},{"g":2,"k":2,"row":31,"v":0.03},{"g":2,"k":3,"row":31,"v":0.03},{"g":2,"k":6,"row":31,"v":0.03},
{"g":3,"k":3,"row":31,"v":0.05},{"g":3,"k":5,"row":31,"v":0.03},{"g":3,"k":6,"row":31,"v":0.03},{"g":4,"k":0,"row":31,"v":0.03},{"g":4,"k":3,"row":31,"v":0.03},{"g":6,"k":3,"row":31,"v":0.03},
{"g":4,"k":1,"row":32,"v":0.03}]
},
"hconcat":[
{"width":121.8,"height":438,"layer":[
{"data":{"name":"orders"},"mark":{"type":"rect"},"encoding":{"x":{"datum":0,"type":"quantitative","scale":{"domain":[0,121.8],"nice":false,"zero":false},"axis":null},"x2":{"datum":663},"y":{"field":"top","type":"quantitative","scale":{"domain":[-6.447,37.265],"reverse":true,"nice":false,"zero":false},"axis":null},"y2":{"field":"bottom"},"fill":{"field":"order","type":"nominal","scale":{"domain":["Entomoplasmatales","Rhizobiales","Rickettsiales","Burkholderiales","Enterobacteriales","Pasteurellales","Pseudomonadales","Xanthomonadales","Actinomycetales","Flavobacteriales","Lactobacillales","Clostridiales"],"range":["#b5deb0","#f3a5a5","#b4bfcc","#a8c8ee","#f6f2b4","#b0a3bb","#f0c9f2","#b9a2d6","#c9d5e4","#a3cbbf","#e2f6a8","#b5e1f2"]},"legend":null}}},
{"data":{"name":"orders"},"mark":{"type":"text","fontWeight":"bold","fontSize":7.1,"baseline":"middle","align":"center"},"encoding":{"x":{"datum":30.5},"y":{"field":"mid","type":"quantitative"},"text":{"field":"order"}}},
{"data":{"name":"tree"},"transform":[{"filter":"datum.line == 'solid'"}],"mark":{"type":"rule","color":"black","strokeWidth":1.4},"encoding":{"x":{"field":"x1","type":"quantitative"},"x2":{"field":"x2"},"y":{"field":"y1","type":"quantitative"},"y2":{"field":"y2"}}},
{"data":{"name":"tree"},"transform":[{"filter":"datum.line == 'dashed'"}],"mark":{"type":"rule","color":"black","strokeWidth":1.2,"strokeDash":[2.5,2]},"encoding":{"x":{"field":"x1","type":"quantitative"},"x2":{"field":"x2"},"y":{"field":"y1","type":"quantitative"},"y2":{"field":"y2"}}},
{"data":{"name":"treeLabels"},"mark":{"type":"text","fontSize":4.5,"fontWeight":"bold","baseline":"middle","align":"center"},"encoding":{"x":{"field":"x","type":"quantitative"},"y":{"field":"y","type":"quantitative"},"text":{"field":"label"}}},
{"data":{"values":[{"label":"Proteobacteria"}]},"mark":{"type":"text","fontSize":4.5,"fontWeight":"bold","baseline":"middle","align":"center","angle":270},"encoding":{"x":{"datum":68.3},"y":{"datum":8.0},"text":{"field":"label"}}}
]},
{"width":78.68,"height":438,"resolve":{"scale":{"x":"independent"}},"layer":[
{"layer":[
{"data":{"values":[{}]},"mark":{"type":"rect","fill":"white"},"encoding":{"x":{"datum":0,"type":"quantitative","scale":{"domain":[0,7],"nice":false,"zero":false},"axis":null},"x2":{"datum":7},"y":{"datum":0,"type":"quantitative","scale":{"domain":[-6.447,37.265],"reverse":true,"nice":false,"zero":false},"axis":null},"y2":{"datum":33}}},
{"data":{"name":"cells"},"transform":[{"filter":"datum.g == 1"}],"mark":{"type":"point","shape":"M0,0H2V1.783H0Z","size":126.34,"filled":true,"opacity":1,"stroke":"#8c8c8c","strokeWidth":0.8},"encoding":{"x":{"field":"k","type":"quantitative"},"y":{"field":"row","type":"quantitative"},"color":{"field":"v","type":"quantitative","scale":{"domain":[0,0.1,0.25,0.4,0.52,0.6,1],"range":["#f0f0f0","#dcdcdc","#a0a0a0","#444444","#050505","#2a0000","#ff0000"],"interpolate":"rgb","nice":false,"zero":false},"legend":null}}},
{"data":{"name":"orders"},"mark":{"type":"rule","color":"black","strokeWidth":1.3},"encoding":{"y":{"field":"top","type":"quantitative"},"x":{"datum":0},"x2":{"datum":7}}},
{"data":{"name":"orders"},"mark":{"type":"rule","color":"black","strokeWidth":1.3},"encoding":{"y":{"field":"bottom","type":"quantitative"},"x":{"datum":0},"x2":{"datum":7}}},
{"data":{"name":"vlines"},"transform":[{"filter":"datum.g == 1"}],"mark":{"type":"rule","color":"black","strokeWidth":1.3},"encoding":{"x":{"field":"at","type":"quantitative"},"y":{"datum":0},"y2":{"datum":33}}},
{"data":{"name":"samples"},"transform":[{"filter":"datum.g == 1"}],"mark":{"type":"point","shape":"M0,0H2V1.783H0Z","size":126.34,"filled":true,"opacity":1,"strokeWidth":0},"encoding":{"x":{"field":"k","type":"quantitative"},"y":{"datum":-1.786},"fill":{"field":"treatment","type":"nominal","scale":{"domain":["Start","Garden","Sucrose"],"range":["#41ad49","#9b4a9f","#53c6f0"]},"legend":null}}},
{"data":{"name":"samples"},"transform":[{"filter":"datum.g == 1"}],"mark":{"type":"text","dx":5.62,"dy":5.0,"align":"center","baseline":"middle","fontSize":9.3},"encoding":{"x":{"field":"k","type":"quantitative"},"y":{"datum":-1.786},"text":{"field":"letter"}}},
{"data":{"name":"colonies"},"transform":[{"filter":"datum.g == 1"}],"mark":{"type":"text","fontSize":5.8,"fill":"#333333","baseline":"middle","align":"center"},"encoding":{"x":{"datum":3.5},"y":{"datum":-3.154},"text":{"field":"name"}}},
{"data":{"values":[{}]},"mark":{"type":"rule","color":"#1a1a1a","strokeWidth":1.4},"encoding":{"x":{"datum":0.05},"x2":{"datum":6.95},"y":{"datum":-2.355}}},
{"data":{"values":[{}]},"mark":{"type":"rule","color":"#1a1a1a","strokeWidth":1.4},"encoding":{"x":{"datum":0.05},"y":{"datum":-2.754},"y2":{"datum":-1.956}}},
{"data":{"values":[{}]},"mark":{"type":"rule","color":"#1a1a1a","strokeWidth":1.4},"encoding":{"x":{"datum":6.95},"y":{"datum":-2.754},"y2":{"datum":-1.956}}},
{"data":{"name":"braces"},"transform":[{"filter":"datum.g == 1"}],"mark":{"type":"line","color":"#1a1a1a","strokeWidth":1.1,"interpolate":"monotone"},"encoding":{"x":{"field":"bx","type":"quantitative"},"y":{"field":"by","type":"quantitative"},"order":{"field":"i"}}},
{"data":{"values":[{"title":"Guest ant and host"}]},"mark":{"type":"text","fontSize":7.8,"fontWeight":"bold","baseline":"middle","align":"center"},"encoding":{"x":{"datum":14.36},"y":{"datum":-5.8},"text":{"field":"title"}}}
]},
{"layer":[
{"data":{"name":"legendSteps"},"mark":{"type":"rect"},"encoding":{"x":{"field":"lo","type":"quantitative","scale":{"domain":[-0.5396,0.2027],"nice":false,"zero":false},"axis":null},"x2":{"field":"hi"},"y":{"datum":33.8},"y2":{"datum":35.13},"color":{"field":"v","type":"quantitative","legend":null}}},
{"data":{"values":[{}]},"mark":{"type":"rect","fill":"transparent","stroke":"black","strokeWidth":1.2},"encoding":{"x":{"datum":0},"x2":{"datum":1},"y":{"datum":33.8},"y2":{"datum":35.13}}},
{"data":{"name":"legendTicks"},"mark":{"type":"text","fontSize":8,"baseline":"middle","align":"center"},"encoding":{"x":{"field":"t","type":"quantitative"},"y":{"datum":35.92},"text":{"field":"label"}}},
{"data":{"values":[{"title":"Relative abundance"}]},"mark":{"type":"text","fontSize":8,"baseline":"middle","align":"center"},"encoding":{"x":{"datum":0.5},"y":{"datum":36.8},"text":{"field":"title"}}}
]}
]},
{"width":78.68,"height":438,"layer":[
{"data":{"values":[{}]},"mark":{"type":"rect","fill":"white"},"encoding":{"x":{"datum":0,"type":"quantitative","scale":{"domain":[0,7],"nice":false,"zero":false},"axis":null},"x2":{"datum":7},"y":{"datum":0,"type":"quantitative","scale":{"domain":[-6.447,37.265],"reverse":true,"nice":false,"zero":false},"axis":null},"y2":{"datum":33}}},
{"data":{"name":"cells"},"transform":[{"filter":"datum.g == 2"}],"mark":{"type":"point","shape":"M0,0H2V1.783H0Z","size":126.34,"filled":true,"opacity":1,"stroke":"#8c8c8c","strokeWidth":0.8},"encoding":{"x":{"field":"k","type":"quantitative"},"y":{"field":"row","type":"quantitative"},"color":{"field":"v","type":"quantitative","scale":{"domain":[0,0.1,0.25,0.4,0.52,0.6,1],"range":["#f0f0f0","#dcdcdc","#a0a0a0","#444444","#050505","#2a0000","#ff0000"],"interpolate":"rgb","nice":false,"zero":false},"legend":null}}},
{"data":{"name":"orders"},"mark":{"type":"rule","color":"black","strokeWidth":1.3},"encoding":{"y":{"field":"top","type":"quantitative"},"x":{"datum":0},"x2":{"datum":7}}},
{"data":{"name":"orders"},"mark":{"type":"rule","color":"black","strokeWidth":1.3},"encoding":{"y":{"field":"bottom","type":"quantitative"},"x":{"datum":0},"x2":{"datum":7}}},
{"data":{"name":"vlines"},"transform":[{"filter":"datum.g == 2"}],"mark":{"type":"rule","color":"black","strokeWidth":1.3},"encoding":{"x":{"field":"at","type":"quantitative"},"y":{"datum":0},"y2":{"datum":33}}},
{"data":{"name":"samples"},"transform":[{"filter":"datum.g == 2"}],"mark":{"type":"point","shape":"M0,0H2V1.783H0Z","size":126.34,"filled":true,"opacity":1,"strokeWidth":0},"encoding":{"x":{"field":"k","type":"quantitative"},"y":{"datum":-1.786},"fill":{"field":"treatment","type":"nominal","scale":{"domain":["Start","Garden","Sucrose"],"range":["#41ad49","#9b4a9f","#53c6f0"]},"legend":null}}},
{"data":{"name":"samples"},"transform":[{"filter":"datum.g == 2"}],"mark":{"type":"text","dx":5.62,"dy":5.0,"align":"center","baseline":"middle","fontSize":9.3},"encoding":{"x":{"field":"k","type":"quantitative"},"y":{"datum":-1.786},"text":{"field":"letter"}}},
{"data":{"name":"colonies"},"transform":[{"filter":"datum.g == 2"}],"mark":{"type":"text","fontSize":5.8,"fill":"#333333","baseline":"middle","align":"center"},"encoding":{"x":{"datum":3.5},"y":{"datum":-3.154},"text":{"field":"name"}}},
{"data":{"values":[{}]},"mark":{"type":"rule","color":"#1a1a1a","strokeWidth":1.4},"encoding":{"x":{"datum":0.05},"x2":{"datum":6.95},"y":{"datum":-2.355}}},
{"data":{"values":[{}]},"mark":{"type":"rule","color":"#1a1a1a","strokeWidth":1.4},"encoding":{"x":{"datum":0.05},"y":{"datum":-2.754},"y2":{"datum":-1.956}}},
{"data":{"values":[{}]},"mark":{"type":"rule","color":"#1a1a1a","strokeWidth":1.4},"encoding":{"x":{"datum":6.95},"y":{"datum":-2.754},"y2":{"datum":-1.956}}}
]},
{"width":78.68,"height":438,"layer":[
{"data":{"values":[{}]},"mark":{"type":"rect","fill":"white"},"encoding":{"x":{"datum":0,"type":"quantitative","scale":{"domain":[0,7],"nice":false,"zero":false},"axis":null},"x2":{"datum":7},"y":{"datum":0,"type":"quantitative","scale":{"domain":[-6.447,37.265],"reverse":true,"nice":false,"zero":false},"axis":null},"y2":{"datum":33}}},
{"data":{"name":"cells"},"transform":[{"filter":"datum.g == 3"}],"mark":{"type":"point","shape":"M0,0H2V1.783H0Z","size":126.34,"filled":true,"opacity":1,"stroke":"#8c8c8c","strokeWidth":0.8},"encoding":{"x":{"field":"k","type":"quantitative"},"y":{"field":"row","type":"quantitative"},"color":{"field":"v","type":"quantitative","scale":{"domain":[0,0.1,0.25,0.4,0.52,0.6,1],"range":["#f0f0f0","#dcdcdc","#a0a0a0","#444444","#050505","#2a0000","#ff0000"],"interpolate":"rgb","nice":false,"zero":false},"legend":null}}},
{"data":{"name":"orders"},"mark":{"type":"rule","color":"black","strokeWidth":1.3},"encoding":{"y":{"field":"top","type":"quantitative"},"x":{"datum":0},"x2":{"datum":7}}},
{"data":{"name":"orders"},"mark":{"type":"rule","color":"black","strokeWidth":1.3},"encoding":{"y":{"field":"bottom","type":"quantitative"},"x":{"datum":0},"x2":{"datum":7}}},
{"data":{"name":"vlines"},"transform":[{"filter":"datum.g == 3"}],"mark":{"type":"rule","color":"black","strokeWidth":1.3},"encoding":{"x":{"field":"at","type":"quantitative"},"y":{"datum":0},"y2":{"datum":33}}},
{"data":{"name":"samples"},"transform":[{"filter":"datum.g == 3"}],"mark":{"type":"point","shape":"M0,0H2V1.783H0Z","size":126.34,"filled":true,"opacity":1,"strokeWidth":0},"encoding":{"x":{"field":"k","type":"quantitative"},"y":{"datum":-1.786},"fill":{"field":"treatment","type":"nominal","scale":{"domain":["Start","Garden","Sucrose"],"range":["#41ad49","#9b4a9f","#53c6f0"]},"legend":null}}},
{"data":{"name":"samples"},"transform":[{"filter":"datum.g == 3"}],"mark":{"type":"text","dx":5.62,"dy":5.0,"align":"center","baseline":"middle","fontSize":9.3},"encoding":{"x":{"field":"k","type":"quantitative"},"y":{"datum":-1.786},"text":{"field":"letter"}}},
{"data":{"name":"colonies"},"transform":[{"filter":"datum.g == 3"}],"mark":{"type":"text","fontSize":5.8,"fill":"#333333","baseline":"middle","align":"center"},"encoding":{"x":{"datum":3.5},"y":{"datum":-3.154},"text":{"field":"name"}}},
{"data":{"values":[{}]},"mark":{"type":"rule","color":"#1a1a1a","strokeWidth":1.4},"encoding":{"x":{"datum":0.05},"x2":{"datum":6.95},"y":{"datum":-2.355}}},
{"data":{"values":[{}]},"mark":{"type":"rule","color":"#1a1a1a","strokeWidth":1.4},"encoding":{"x":{"datum":0.05},"y":{"datum":-2.754},"y2":{"datum":-1.956}}},
{"data":{"values":[{}]},"mark":{"type":"rule","color":"#1a1a1a","strokeWidth":1.4},"encoding":{"x":{"datum":6.95},"y":{"datum":-2.754},"y2":{"datum":-1.956}}},
{"data":{"name":"treatLegend"},"mark":{"type":"point","shape":"square","size":90,"filled":true,"opacity":1,"strokeWidth":0},"encoding":{"x":{"datum":2.397},"y":{"field":"line","type":"quantitative"},"fill":{"field":"treatment","type":"nominal","legend":null}}},
{"data":{"name":"treatLegend"},"mark":{"type":"text","align":"left","baseline":"middle","fontSize":8.1,"fill":"#222222"},"encoding":{"x":{"datum":3.358},"y":{"field":"line","type":"quantitative"},"text":{"field":"label"}}},
{"data":{"name":"keyLegend"},"mark":{"type":"text","align":"left","baseline":"middle","fontSize":8.1,"fill":"#222222"},"encoding":{"x":{"datum":10.564},"y":{"field":"line","type":"quantitative"},"text":{"field":"letter"}}},
{"data":{"name":"keyLegend"},"mark":{"type":"text","align":"left","baseline":"middle","fontSize":8.1,"fill":"#222222","text":"="},"encoding":{"x":{"datum":11.454},"y":{"field":"line","type":"quantitative"}}},
{"data":{"name":"keyLegend"},"mark":{"type":"text","align":"left","baseline":"middle","fontSize":8.1,"fill":"#222222"},"encoding":{"x":{"datum":12.193},"y":{"field":"line","type":"quantitative"},"text":{"field":"word"}}}
]},
{"width":78.68,"height":438,"layer":[
{"data":{"values":[{}]},"mark":{"type":"rect","fill":"white"},"encoding":{"x":{"datum":0,"type":"quantitative","scale":{"domain":[0,7],"nice":false,"zero":false},"axis":null},"x2":{"datum":7},"y":{"datum":0,"type":"quantitative","scale":{"domain":[-6.447,37.265],"reverse":true,"nice":false,"zero":false},"axis":null},"y2":{"datum":33}}},
{"data":{"name":"cells"},"transform":[{"filter":"datum.g == 4"}],"mark":{"type":"point","shape":"M0,0H2V1.783H0Z","size":126.34,"filled":true,"opacity":1,"stroke":"#8c8c8c","strokeWidth":0.8},"encoding":{"x":{"field":"k","type":"quantitative"},"y":{"field":"row","type":"quantitative"},"color":{"field":"v","type":"quantitative","scale":{"domain":[0,0.1,0.25,0.4,0.52,0.6,1],"range":["#f0f0f0","#dcdcdc","#a0a0a0","#444444","#050505","#2a0000","#ff0000"],"interpolate":"rgb","nice":false,"zero":false},"legend":null}}},
{"data":{"name":"orders"},"mark":{"type":"rule","color":"black","strokeWidth":1.3},"encoding":{"y":{"field":"top","type":"quantitative"},"x":{"datum":0},"x2":{"datum":7}}},
{"data":{"name":"orders"},"mark":{"type":"rule","color":"black","strokeWidth":1.3},"encoding":{"y":{"field":"bottom","type":"quantitative"},"x":{"datum":0},"x2":{"datum":7}}},
{"data":{"name":"vlines"},"transform":[{"filter":"datum.g == 4"}],"mark":{"type":"rule","color":"black","strokeWidth":1.3},"encoding":{"x":{"field":"at","type":"quantitative"},"y":{"datum":0},"y2":{"datum":33}}},
{"data":{"name":"samples"},"transform":[{"filter":"datum.g == 4"}],"mark":{"type":"point","shape":"M0,0H2V1.783H0Z","size":126.34,"filled":true,"opacity":1,"strokeWidth":0},"encoding":{"x":{"field":"k","type":"quantitative"},"y":{"datum":-1.786},"fill":{"field":"treatment","type":"nominal","scale":{"domain":["Start","Garden","Sucrose"],"range":["#41ad49","#9b4a9f","#53c6f0"]},"legend":null}}},
{"data":{"name":"samples"},"transform":[{"filter":"datum.g == 4"}],"mark":{"type":"text","dx":5.62,"dy":5.0,"align":"center","baseline":"middle","fontSize":9.3},"encoding":{"x":{"field":"k","type":"quantitative"},"y":{"datum":-1.786},"text":{"field":"letter"}}},
{"data":{"name":"colonies"},"transform":[{"filter":"datum.g == 4"}],"mark":{"type":"text","fontSize":5.8,"fill":"#333333","baseline":"middle","align":"center"},"encoding":{"x":{"datum":3.5},"y":{"datum":-3.154},"text":{"field":"name"}}},
{"data":{"values":[{}]},"mark":{"type":"rule","color":"#1a1a1a","strokeWidth":1.4},"encoding":{"x":{"datum":0.05},"x2":{"datum":6.95},"y":{"datum":-2.355}}},
{"data":{"values":[{}]},"mark":{"type":"rule","color":"#1a1a1a","strokeWidth":1.4},"encoding":{"x":{"datum":0.05},"y":{"datum":-2.754},"y2":{"datum":-1.956}}},
{"data":{"values":[{}]},"mark":{"type":"rule","color":"#1a1a1a","strokeWidth":1.4},"encoding":{"x":{"datum":6.95},"y":{"datum":-2.754},"y2":{"datum":-1.956}}}
]},
{"width":45.4,"height":438,"layer":[
{"data":{"values":[{}]},"mark":{"type":"rect","fill":"white"},"encoding":{"x":{"datum":0,"type":"quantitative","scale":{"domain":[0,4],"nice":false,"zero":false},"axis":null},"x2":{"datum":4},"y":{"datum":0,"type":"quantitative","scale":{"domain":[-6.447,37.265],"reverse":true,"nice":false,"zero":false},"axis":null},"y2":{"datum":33}}},
{"data":{"name":"cells"},"transform":[{"filter":"datum.g == 5"}],"mark":{"type":"point","shape":"M0,0H2V1.766H0Z","size":128.82,"filled":true,"opacity":1,"stroke":"#8c8c8c","strokeWidth":0.8},"encoding":{"x":{"field":"k","type":"quantitative"},"y":{"field":"row","type":"quantitative"},"color":{"field":"v","type":"quantitative","scale":{"domain":[0,0.1,0.25,0.4,0.52,0.6,1],"range":["#f0f0f0","#dcdcdc","#a0a0a0","#444444","#050505","#2a0000","#ff0000"],"interpolate":"rgb","nice":false,"zero":false},"legend":null}}},
{"data":{"name":"orders"},"mark":{"type":"rule","color":"black","strokeWidth":1.3},"encoding":{"y":{"field":"top","type":"quantitative"},"x":{"datum":0},"x2":{"datum":4}}},
{"data":{"name":"orders"},"mark":{"type":"rule","color":"black","strokeWidth":1.3},"encoding":{"y":{"field":"bottom","type":"quantitative"},"x":{"datum":0},"x2":{"datum":4}}},
{"data":{"name":"vlines"},"transform":[{"filter":"datum.g == 5"}],"mark":{"type":"rule","color":"black","strokeWidth":1.3},"encoding":{"x":{"field":"at","type":"quantitative"},"y":{"datum":0},"y2":{"datum":33}}},
{"data":{"name":"samples"},"transform":[{"filter":"datum.g == 5"}],"mark":{"type":"point","shape":"M0,0H2V1.766H0Z","size":128.82,"filled":true,"opacity":1,"strokeWidth":0},"encoding":{"x":{"field":"k","type":"quantitative"},"y":{"datum":-1.786},"fill":{"field":"treatment","type":"nominal","scale":{"domain":["Start","Garden","Sucrose"],"range":["#41ad49","#9b4a9f","#53c6f0"]},"legend":null}}},
{"data":{"name":"samples"},"transform":[{"filter":"datum.g == 5"}],"mark":{"type":"text","dx":5.67,"dy":5.0,"align":"center","baseline":"middle","fontSize":9.3},"encoding":{"x":{"field":"k","type":"quantitative"},"y":{"datum":-1.786},"text":{"field":"letter"}}},
{"data":{"name":"colonies"},"transform":[{"filter":"datum.g == 5"}],"mark":{"type":"text","fontSize":5.6,"fill":"#333333","baseline":"middle","align":"center"},"encoding":{"x":{"datum":2},"y":{"datum":-3.154},"text":{"field":"name"}}},
{"data":{"values":[{}]},"mark":{"type":"rule","color":"#1a1a1a","strokeWidth":1.4},"encoding":{"x":{"datum":0.05},"x2":{"datum":3.95},"y":{"datum":-2.355}}},
{"data":{"values":[{}]},"mark":{"type":"rule","color":"#1a1a1a","strokeWidth":1.4},"encoding":{"x":{"datum":0.05},"y":{"datum":-2.754},"y2":{"datum":-1.956}}},
{"data":{"values":[{}]},"mark":{"type":"rule","color":"#1a1a1a","strokeWidth":1.4},"encoding":{"x":{"datum":3.95},"y":{"datum":-2.754},"y2":{"datum":-1.956}}},
{"data":{"name":"braces"},"transform":[{"filter":"datum.g == 5"}],"mark":{"type":"line","color":"#1a1a1a","strokeWidth":1.1,"interpolate":"monotone"},"encoding":{"x":{"field":"bx","type":"quantitative"},"y":{"field":"by","type":"quantitative"},"order":{"field":"i"}}},
{"data":{"values":[{"title":"Agro-predator"}]},"mark":{"type":"text","fontSize":7.8,"fontWeight":"bold","baseline":"middle","align":"center"},"encoding":{"x":{"datum":2},"y":{"datum":-5.8},"text":{"field":"title"}}}
]},
{"width":45.4,"height":438,"layer":[
{"data":{"values":[{}]},"mark":{"type":"rect","fill":"white"},"encoding":{"x":{"datum":0,"type":"quantitative","scale":{"domain":[0,4],"nice":false,"zero":false},"axis":null},"x2":{"datum":4},"y":{"datum":0,"type":"quantitative","scale":{"domain":[-6.447,37.265],"reverse":true,"nice":false,"zero":false},"axis":null},"y2":{"datum":33}}},
{"data":{"name":"cells"},"transform":[{"filter":"datum.g == 6"}],"mark":{"type":"point","shape":"M0,0H2V1.766H0Z","size":128.82,"filled":true,"opacity":1,"stroke":"#8c8c8c","strokeWidth":0.8},"encoding":{"x":{"field":"k","type":"quantitative"},"y":{"field":"row","type":"quantitative"},"color":{"field":"v","type":"quantitative","scale":{"domain":[0,0.1,0.25,0.4,0.52,0.6,1],"range":["#f0f0f0","#dcdcdc","#a0a0a0","#444444","#050505","#2a0000","#ff0000"],"interpolate":"rgb","nice":false,"zero":false},"legend":null}}},
{"data":{"name":"orders"},"mark":{"type":"rule","color":"black","strokeWidth":1.3},"encoding":{"y":{"field":"top","type":"quantitative"},"x":{"datum":0},"x2":{"datum":4}}},
{"data":{"name":"orders"},"mark":{"type":"rule","color":"black","strokeWidth":1.3},"encoding":{"y":{"field":"bottom","type":"quantitative"},"x":{"datum":0},"x2":{"datum":4}}},
{"data":{"name":"vlines"},"transform":[{"filter":"datum.g == 6"}],"mark":{"type":"rule","color":"black","strokeWidth":1.3},"encoding":{"x":{"field":"at","type":"quantitative"},"y":{"datum":0},"y2":{"datum":33}}},
{"data":{"name":"samples"},"transform":[{"filter":"datum.g == 6"}],"mark":{"type":"point","shape":"M0,0H2V1.766H0Z","size":128.82,"filled":true,"opacity":1,"strokeWidth":0},"encoding":{"x":{"field":"k","type":"quantitative"},"y":{"datum":-1.786},"fill":{"field":"treatment","type":"nominal","scale":{"domain":["Start","Garden","Sucrose"],"range":["#41ad49","#9b4a9f","#53c6f0"]},"legend":null}}},
{"data":{"name":"samples"},"transform":[{"filter":"datum.g == 6"}],"mark":{"type":"text","dx":5.67,"dy":5.0,"align":"center","baseline":"middle","fontSize":9.3},"encoding":{"x":{"field":"k","type":"quantitative"},"y":{"datum":-1.786},"text":{"field":"letter"}}},
{"data":{"name":"colonies"},"transform":[{"filter":"datum.g == 6"}],"mark":{"type":"text","fontSize":5.6,"fill":"#333333","baseline":"middle","align":"center"},"encoding":{"x":{"datum":2},"y":{"datum":-3.154},"text":{"field":"name"}}},
{"data":{"values":[{}]},"mark":{"type":"rule","color":"#1a1a1a","strokeWidth":1.4},"encoding":{"x":{"datum":0.05},"x2":{"datum":3.95},"y":{"datum":-2.355}}},
{"data":{"values":[{}]},"mark":{"type":"rule","color":"#1a1a1a","strokeWidth":1.4},"encoding":{"x":{"datum":0.05},"y":{"datum":-2.754},"y2":{"datum":-1.956}}},
{"data":{"values":[{}]},"mark":{"type":"rule","color":"#1a1a1a","strokeWidth":1.4},"encoding":{"x":{"datum":3.95},"y":{"datum":-2.754},"y2":{"datum":-1.956}}},
{"data":{"name":"braces"},"transform":[{"filter":"datum.g == 6"}],"mark":{"type":"line","color":"#1a1a1a","strokeWidth":1.1,"interpolate":"monotone"},"encoding":{"x":{"field":"bx","type":"quantitative"},"y":{"field":"by","type":"quantitative"},"order":{"field":"i"}}},
{"data":{"values":[{"title":"Thief ant"}]},"mark":{"type":"text","fontSize":7.8,"fontWeight":"bold","baseline":"middle","align":"center"},"encoding":{"x":{"datum":2},"y":{"datum":-5.8},"text":{"field":"title"}}}
]},
{"width":116.78,"height":438,"layer":[
{"data":{"name":"taxa"},"transform":[{"filter":"datum.rank != 'genus'"}],"mark":{"type":"text","align":"left","baseline":"middle","dy":5.01,"fontSize":7.8},"encoding":{"x":{"datum":16.1,"type":"quantitative","scale":{"domain":[0,116.78],"nice":false,"zero":false},"axis":null},"y":{"field":"row","type":"quantitative","scale":{"domain":[-6.447,37.265],"reverse":true,"nice":false,"zero":false},"axis":null},"text":{"field":"label"}}},
{"data":{"name":"taxa"},"transform":[{"filter":"datum.rank == 'genus'"}],"mark":{"type":"text","align":"left","baseline":"middle","dy":5.01,"fontSize":7.8,"fontStyle":"italic"},"encoding":{"x":{"datum":16.1},"y":{"field":"row","type":"quantitative"},"text":{"field":"label"}}},
{"data":{"name":"taxa"},"transform":[{"filter":"datum.sig"}],"mark":{"type":"text","align":"center","baseline":"middle","dy":5.01,"fontSize":7.5,"font":"DejaVu Sans","text":"✱"},"encoding":{"x":{"datum":3.1},"y":{"field":"row","type":"quantitative"}}},
{"data":{"name":"taxa"},"transform":[{"filter":"datum.trend == 'up'"}],"mark":{"type":"text","align":"center","baseline":"middle","dy":5.01,"fontSize":8,"font":"DejaVu Sans","fontWeight":"bold","text":"↑"},"encoding":{"x":{"datum":10.5},"y":{"field":"row","type":"quantitative"}}},
{"data":{"name":"taxa"},"transform":[{"filter":"datum.trend == 'down'"}],"mark":{"type":"text","align":"center","baseline":"middle","dy":5.01,"fontSize":8,"font":"DejaVu Sans","fontWeight":"bold","text":"↓"},"encoding":{"x":{"datum":10.5},"y":{"field":"row","type":"quantitative"}}}
]}
]
}
